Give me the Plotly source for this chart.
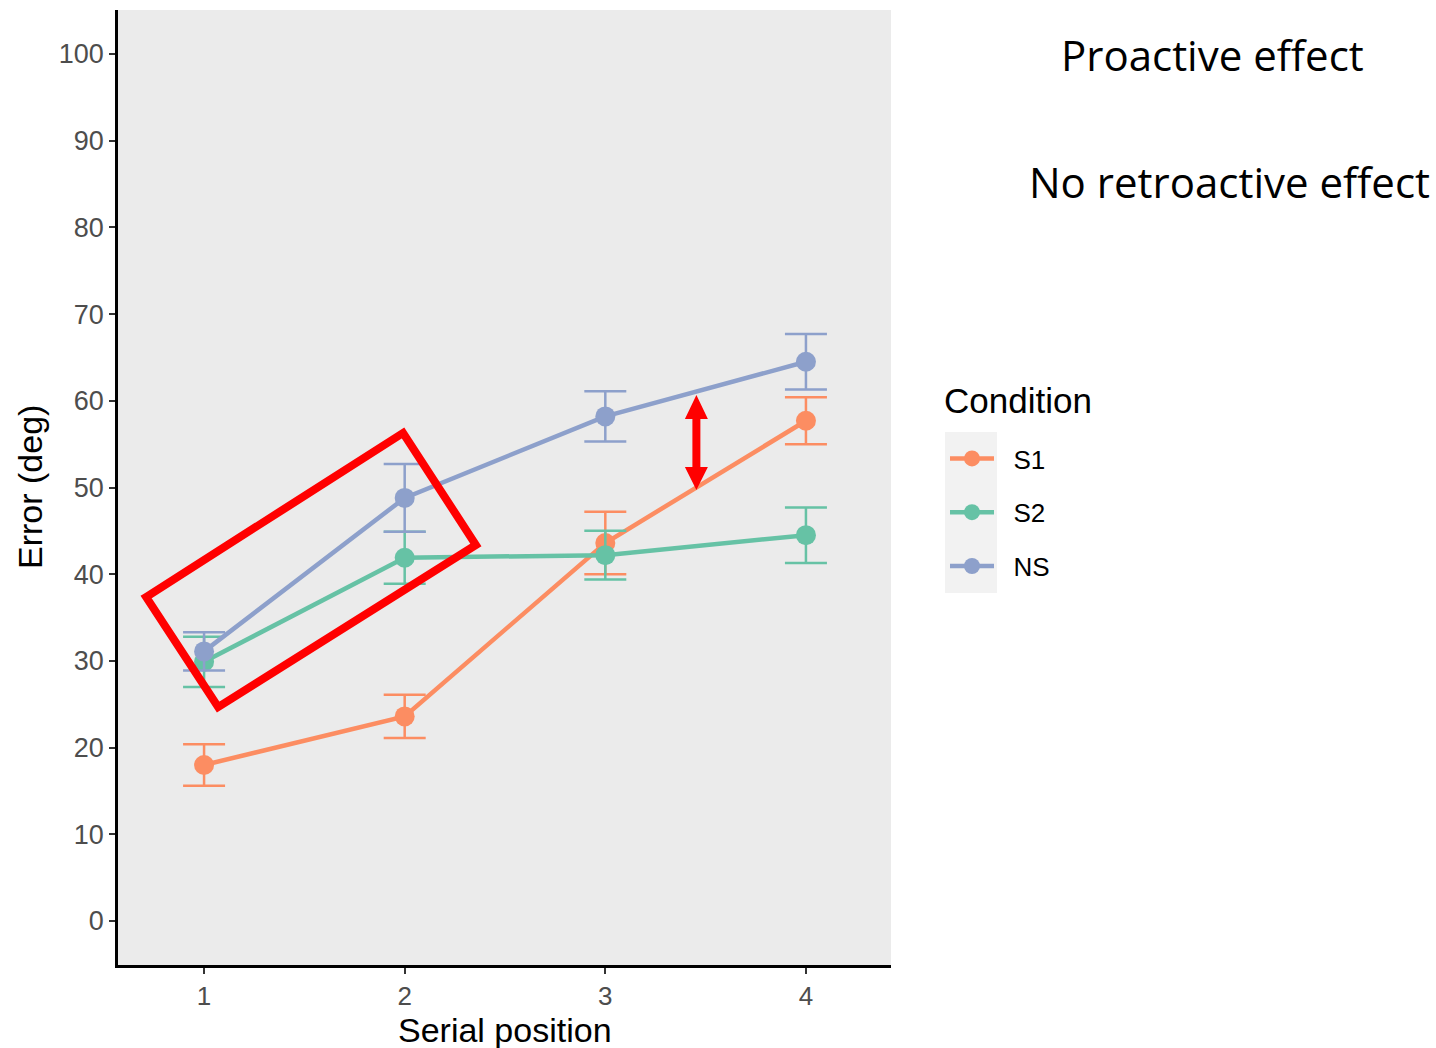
import plotly.graph_objects as go

positions = [1, 2, 3, 4]
conditions = ["S1", "S2", "NS"]
s1_mean = [18.0, 23.6, 43.6, 57.7]
s1_err = [2.4, 2.5, 3.6, 2.7]
s2_mean = [29.9, 41.9, 42.2, 44.5]
s2_err = [2.9, 3.0, 2.8, 3.2]
ns_mean = [31.1, 48.8, 58.2, 64.5]
ns_err = [2.2, 3.9, 2.9, 3.2]
y_ticks = [0, 10, 20, 30, 40, 50, 60, 70, 80, 90, 100]

colors = {"S1": "#FC8D62", "S2": "#66C2A5", "NS": "#8DA0CB"}
series = {"S1": (s1_mean, s1_err), "S2": (s2_mean, s2_err), "NS": (ns_mean, ns_err)}

fig = go.Figure()
for i, name in enumerate(conditions):
    m, e = series[name]
    fig.add_trace(go.Scatter(
        x=positions, y=m, name="\u00a0\u00a0" + name, mode="lines+markers",
        line=dict(color=colors[name], width=4.5),
        marker=dict(color=colors[name], size=20),
        error_y=dict(type="data", array=e, visible=True, color=colors[name],
                     thickness=2.5, width=21),
        legendgroup=name,
    ))

# red highlight box (annotation)
box = [(0.711, 37.37), (1.992, 56.29), (2.355, 43.37), (1.070, 24.68)]
path = "M " + " L ".join(f"{x},{y}" for x, y in box) + " Z"
fig.add_shape(type="path", path=path, xref="x", yref="y",
              line=dict(color="#FF0000", width=8), layer="above")

# red double arrow (annotation)
ax0 = 3.454
hw, sw = 0.0573, 0.0199
yt, ytb, ybb, yb = 60.67, 57.9, 52.36, 49.71
arrow_pts = [(ax0, yt), (ax0 + hw, ytb), (ax0 + sw, ytb), (ax0 + sw, ybb), (ax0 + hw, ybb),
             (ax0, yb), (ax0 - hw, ybb), (ax0 - sw, ybb), (ax0 - sw, ytb), (ax0 - hw, ytb)]
apath = "M " + " L ".join(f"{x},{y}" for x, y in arrow_pts) + " Z"
fig.add_shape(type="path", path=apath, xref="x", yref="y",
              fillcolor="#FF0000", line=dict(color="#FF0000", width=0), layer="above")

L, R, T, B = 118, 545, 10, 83
PW, PH = 1436 - L - R, 1048 - T - B


def px(xp):
    return (xp - L) / PW


def py(yp):
    return (1048 - B - yp) / PH


# legend key background
fig.add_shape(type="rect", xref="paper", yref="paper",
              x0=px(945), x1=px(997), y0=py(593), y1=py(432),
              fillcolor="#F2F2F2", line=dict(width=0), layer="below")

fig.add_annotation(text="Condition", xref="paper", yref="paper",
                   x=px(942), y=py(400), xanchor="left", yanchor="middle", showarrow=False,
                   font=dict(family="Liberation Sans", size=35, color="black"))
fig.add_annotation(text="Proactive effect", xref="paper", yref="paper",
                   x=px(1212), y=py(55), xanchor="center", yanchor="middle", showarrow=False,
                   font=dict(family="Open Sans", size=42, color="black"))
fig.add_annotation(text="No retroactive effect", xref="paper", yref="paper",
                   x=px(1229), y=py(181), xanchor="center", yanchor="middle", showarrow=False,
                   font=dict(family="Open Sans", size=42, color="black"))
# axis titles
fig.add_annotation(text="Serial position", xref="paper", yref="paper",
                   x=px(505), y=py(1030), xanchor="center", yanchor="middle", showarrow=False,
                   font=dict(family="Liberation Sans", size=34, color="black"))
fig.add_annotation(text="Error (deg)", xref="paper", yref="paper", textangle=-90,
                   x=px(30), y=py(487), xanchor="center", yanchor="middle", showarrow=False,
                   font=dict(family="Liberation Sans", size=34, color="black"))

fig.update_layout(
    width=1436, height=1048,
    margin=dict(l=L, r=R, t=T, b=B, autoexpand=False),
    paper_bgcolor="white", plot_bgcolor="#EBEBEB",
    font=dict(family="Liberation Sans", color="black"),
    showlegend=True,
    legend=dict(
        font=dict(size=26, color="black"),
        x=px(945), y=py(435), xanchor="left", yanchor="top",
        bgcolor="rgba(0,0,0,0)", tracegroupgap=17, traceorder="grouped",
        itemwidth=44,
    ),
    xaxis=dict(
        range=[0.571, 4.424], tickvals=positions, ticktext=[str(p) for p in positions],
        showgrid=False, zeroline=False, showline=True, linecolor="black", linewidth=2.5,
        ticks="outside", ticklen=6, tickwidth=2, tickcolor="#333333", automargin=False,
        tickfont=dict(size=26, color="#4D4D4D"),
    ),
    yaxis=dict(
        range=[-5.07, 105.07], tickvals=y_ticks,
        showgrid=False, zeroline=False, showline=True, linecolor="black", linewidth=2.5,
        ticks="outside", ticklen=6, tickwidth=2, tickcolor="#333333", automargin=False,
        tickfont=dict(size=27, color="#4D4D4D"),
    ),
)

fig.write_html("out.html")
